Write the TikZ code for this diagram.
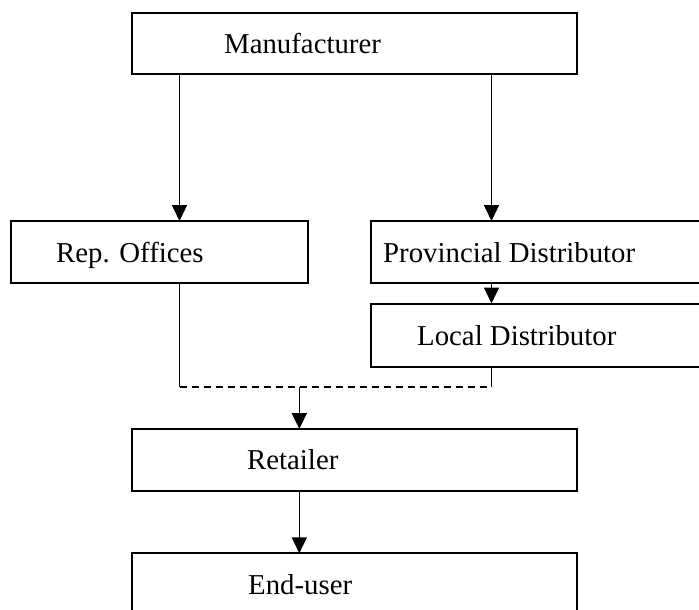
\documentclass[tikz,border=0pt]{standalone}
\usepackage{fontspec}
\setmainfont{Liberation Serif}
\usetikzlibrary{arrows.meta}
\begin{document}
\begin{tikzpicture}[x=1pt,y=-1pt,
  box/.style={draw=black,line width=2pt,inner sep=0pt,outer sep=0pt,rectangle},
  lbl/.style={anchor=base west,inner sep=0pt,font=\fontsize{28.8}{34}\selectfont},
  conn/.style={line width=1.6pt},
  arr/.style={conn,-{Triangle[length=16pt,width=15pt]}},
  dsh/.style={conn,dash pattern=on 7pt off 5pt}]
\useasboundingbox (0,0) rectangle (699,610);
% boxes
\node[box,minimum width=445pt,minimum height=61.3pt] (man) at (354.2,43.35) {};
\node[box,minimum width=297.3pt,minimum height=61.7pt] (rep) at (159.65,251.85) {};
\node[box,minimum width=331pt,minimum height=62pt] (prov) at (536.5,252) {};
\node[box,minimum width=331pt,minimum height=63pt] (loc) at (536.5,335) {};
\node[box,minimum width=445.6pt,minimum height=61.7pt] (ret) at (354.5,459.85) {};
\node[box,minimum width=445.6pt,minimum height=61pt] (end) at (354.5,583.8) {};
% labels
\node[lbl] (tman) at (224,54) {Manufacturer};
\node[lbl] (trep) at (56,262) {Rep. Offices};
\node[lbl] (tprov) at (383,262) {Provincial Distributor};
\node[lbl] (tloc) at (417,345) {Local Distributor};
\node[lbl] (tret) at (247,469) {Retailer};
\node[lbl] (tend) at (248,594) {End-user};
% guide coordinates
\coordinate (lx) at (179.5,0);
\coordinate (rx) at (491.5,0);
\coordinate (j1) at (179.5,387);
\coordinate (j2) at (491.5,387);
\coordinate (jm) at (299.3,387);
% connectors
\draw[arr] (man.south -| lx) -- (rep.north -| lx);
\draw[arr] (man.south -| rx) -- (prov.north -| rx);
\draw[arr] (prov.south -| rx) -- (loc.north -| rx);
\draw[conn] (rep.south -| lx) -- (j1);
\draw[conn] (loc.south -| rx) -- (j2);
\draw[dsh] (j1) -- (j2);
\draw[arr] (jm) -- (ret.north -| jm);
\draw[arr] (ret.south -| jm) -- (end.north -| jm);
\end{tikzpicture}
\end{document}
